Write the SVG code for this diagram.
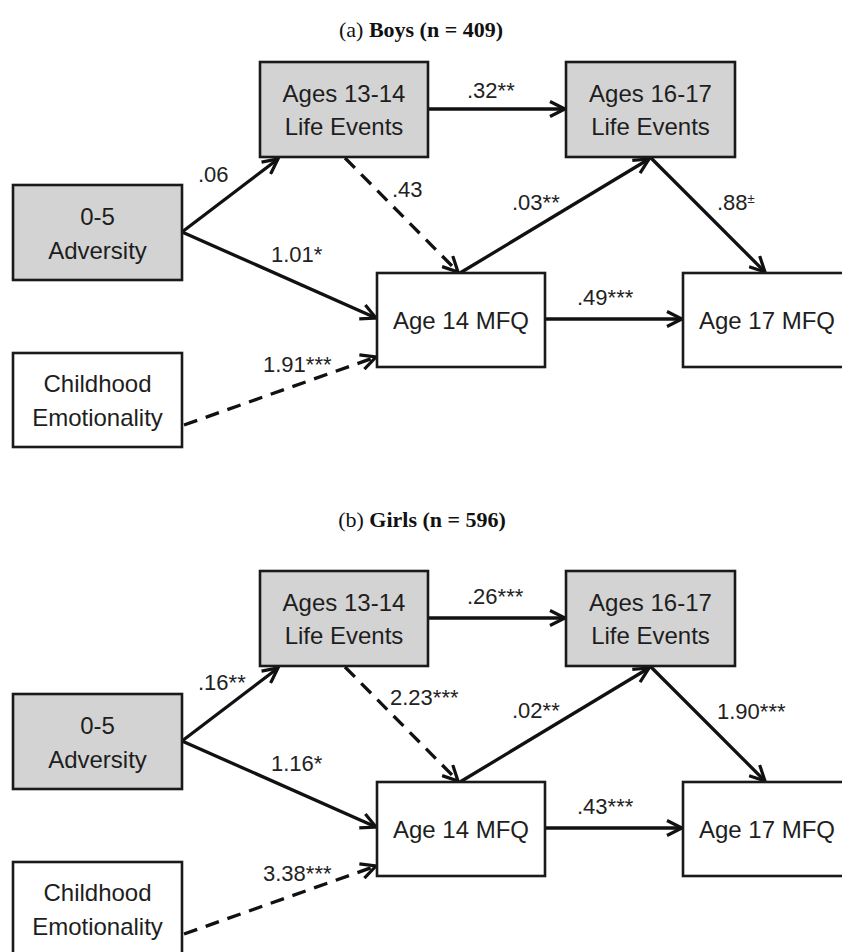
<svg xmlns="http://www.w3.org/2000/svg" width="842" height="952" viewBox="0 0 842 952">
<defs>
<marker id="arr" viewBox="0 0 18 18" refX="16" refY="9" markerWidth="18" markerHeight="18" markerUnits="userSpaceOnUse" orient="auto">
<path d="M1,1.5 L16,9 L1,16.5" fill="none" stroke="#111" stroke-width="3.2"/>
</marker>
<style>
.box{stroke:#1a1a1a;stroke-width:2.6}
.g{fill:#d3d3d3}
.w{fill:#fff}
.bt{font-family:"Liberation Sans",Arial,sans-serif;font-size:24px;fill:#1e1e1e;text-anchor:middle}
.lb{font-family:"Liberation Sans",Arial,sans-serif;font-size:22px;fill:#222}
.sup{font-size:13px}
.ttl{font-family:"Liberation Serif","Times New Roman",serif;font-size:22px;fill:#111;text-anchor:middle}
.b{font-weight:bold}
.c{fill:none;stroke:#111;stroke-width:3.3;marker-end:url(#arr)}
.d{stroke-dasharray:14 9}
</style>
</defs>
<rect width="842" height="952" fill="#fff"/>

<text class="ttl" x="421" y="37">(a) <tspan class="b">Boys (n = 409)</tspan></text>
<text class="ttl" x="422" y="527">(b) <tspan class="b">Girls (n = 596)</tspan></text>

<!-- Panel A -->
<g id="a-connectors">
<line class="c" x1="182" y1="232" x2="278" y2="159"/>
<line class="c" x1="182" y1="232" x2="376" y2="318"/>
<line class="c d" x1="184" y1="425" x2="376" y2="357"/>
<line class="c" x1="428" y1="109" x2="565" y2="109"/>
<line class="c d" x1="345" y1="158" x2="458" y2="272"/>
<line class="c" x1="460" y1="273" x2="649" y2="159"/>
<line class="c" x1="651" y1="158" x2="765" y2="272"/>
<line class="c" x1="545" y1="319" x2="682" y2="319"/>
</g>
<g id="a-labels">
<text class="lb" x="198" y="182">.06</text>
<text class="lb" x="271" y="262">1.01*</text>
<text class="lb" x="263" y="372">1.91***</text>
<text class="lb" x="392" y="197">.43</text>
<text class="lb" x="467" y="98">.32**</text>
<text class="lb" x="512" y="210">.03**</text>
<text class="lb" x="717" y="210">.88<tspan class="sup" dy="-7">±</tspan></text>
<text class="lb" x="577" y="305">.49***</text>
</g>
<g id="a-adversity">
<rect class="box g" x="13" y="185" width="169" height="95"/>
<text class="bt" x="97.5" y="225">0-5</text>
<text class="bt" x="97.5" y="259">Adversity</text>
</g>
<g id="a-emotionality">
<rect class="box w" x="13" y="353" width="169" height="94"/>
<text class="bt" x="97.5" y="392">Childhood</text>
<text class="bt" x="97.5" y="426">Emotionality</text>
</g>
<g id="a-le1314">
<rect class="box g" x="260" y="62" width="168" height="95"/>
<text class="bt" x="344" y="102">Ages 13-14</text>
<text class="bt" x="344" y="135">Life Events</text>
</g>
<g id="a-le1617">
<rect class="box g" x="566" y="62" width="169" height="95"/>
<text class="bt" x="650.5" y="102">Ages 16-17</text>
<text class="bt" x="650.5" y="135">Life Events</text>
</g>
<g id="a-mfq14">
<rect class="box w" x="377" y="273" width="168" height="94"/>
<text class="bt" x="461" y="329">Age 14 MFQ</text>
</g>
<g id="a-mfq17">
<rect class="box w" x="683" y="273" width="168" height="94"/>
<text class="bt" x="767" y="329">Age 17 MFQ</text>
</g>

<!-- Panel B -->
<g id="b-connectors">
<line class="c" x1="182" y1="741" x2="278" y2="668"/>
<line class="c" x1="182" y1="741" x2="376" y2="827"/>
<line class="c d" x1="184" y1="934" x2="376" y2="866"/>
<line class="c" x1="428" y1="618" x2="565" y2="618"/>
<line class="c d" x1="345" y1="667" x2="458" y2="781"/>
<line class="c" x1="460" y1="782" x2="649" y2="668"/>
<line class="c" x1="651" y1="667" x2="765" y2="781"/>
<line class="c" x1="545" y1="828" x2="682" y2="828"/>
</g>
<g id="b-labels">
<text class="lb" x="198" y="690">.16**</text>
<text class="lb" x="271" y="771">1.16*</text>
<text class="lb" x="263" y="881">3.38***</text>
<text class="lb" x="390" y="705">2.23***</text>
<text class="lb" x="467" y="604">.26***</text>
<text class="lb" x="512" y="718">.02**</text>
<text class="lb" x="717" y="719">1.90***</text>
<text class="lb" x="577" y="814">.43***</text>
</g>
<g id="b-adversity">
<rect class="box g" x="13" y="694" width="169" height="95"/>
<text class="bt" x="97.5" y="734">0-5</text>
<text class="bt" x="97.5" y="768">Adversity</text>
</g>
<g id="b-emotionality">
<rect class="box w" x="13" y="862" width="169" height="94"/>
<text class="bt" x="97.5" y="901">Childhood</text>
<text class="bt" x="97.5" y="935">Emotionality</text>
</g>
<g id="b-le1314">
<rect class="box g" x="260" y="571" width="168" height="95"/>
<text class="bt" x="344" y="611">Ages 13-14</text>
<text class="bt" x="344" y="644">Life Events</text>
</g>
<g id="b-le1617">
<rect class="box g" x="566" y="571" width="169" height="95"/>
<text class="bt" x="650.5" y="611">Ages 16-17</text>
<text class="bt" x="650.5" y="644">Life Events</text>
</g>
<g id="b-mfq14">
<rect class="box w" x="377" y="782" width="168" height="94"/>
<text class="bt" x="461" y="838">Age 14 MFQ</text>
</g>
<g id="b-mfq17">
<rect class="box w" x="683" y="782" width="168" height="94"/>
<text class="bt" x="767" y="838">Age 17 MFQ</text>
</g>
</svg>
